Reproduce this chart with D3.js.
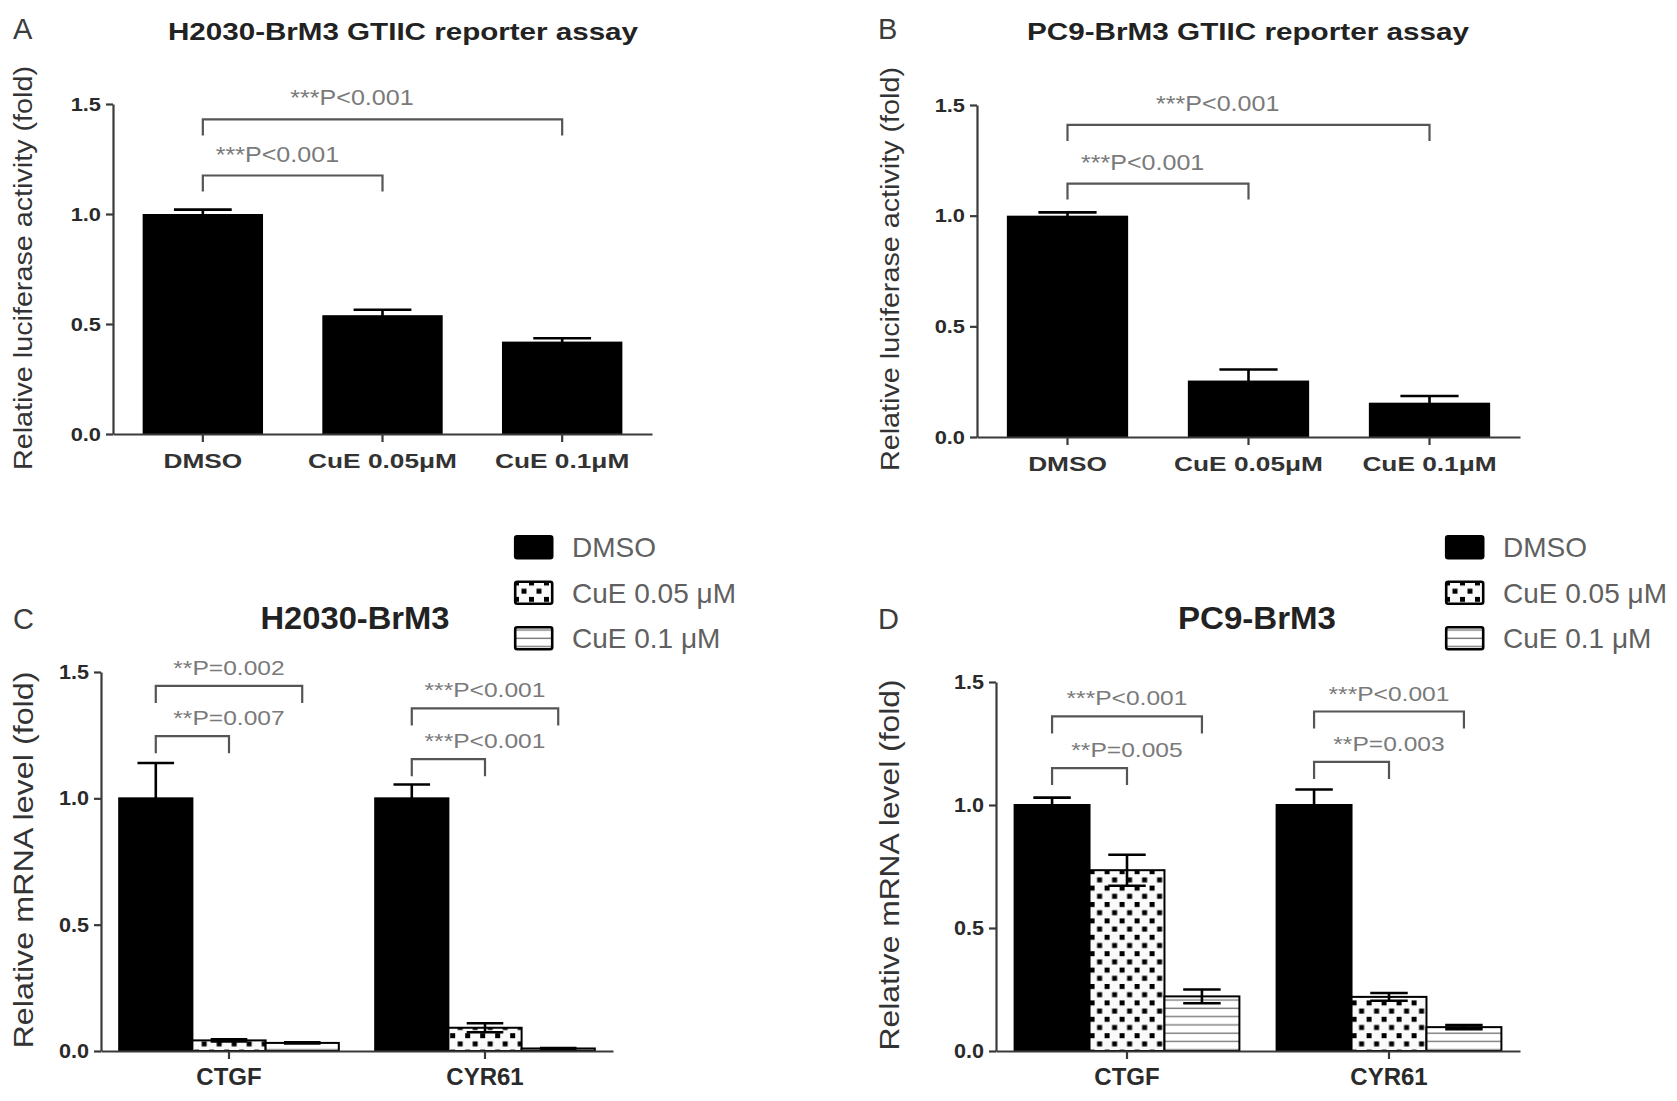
<!DOCTYPE html>
<html>
<head>
<meta charset="utf-8">
<script src="https://cdn.jsdelivr.net/npm/d3@7"></script>
<style>
  body { margin: 0; background: #fff; }
  svg { display: block; }
</style>
</head>
<body>
<svg id="fig" width="1677" height="1101"></svg>
<script>
// ---------- data ----------
const reporterGroups = ["DMSO", "CuE 0.05\u03bcM", "CuE 0.1\u03bcM"];
const h2030Luc = [1.00, 0.54, 0.42];
const h2030LucSd = [0.02, 0.025, 0.015];
const pc9Luc = [1.00, 0.255, 0.155];
const pc9LucSd = [0.015, 0.05, 0.03];

const genes = ["CTGF", "CYR61"];
const treatments = ["DMSO", "CuE 0.05 \u03bcM", "CuE 0.1 \u03bcM"];
const h2030Ctgf = [1.00, 0.042, 0.032];
const h2030CtgfSd = [0.14, 0.004, 0.002];
const h2030Cyr61 = [1.00, 0.092, 0.010];
const h2030Cyr61Sd = [0.055, 0.018, 0.002];
const pc9Ctgf = [1.00, 0.735, 0.222];
const pc9CtgfSd = [0.03, 0.063, 0.028];
const pc9Cyr61 = [1.00, 0.22, 0.097];
const pc9Cyr61Sd = [0.063, 0.016, 0.008];

const yTicks = [0, 0.5, 1.0, 1.5];

// significance brackets: compared bars (index) and bracket height in fold units
const h2030LucSig = [
  { a: 0, b: 2, y: 1.43, label: "***P<0.001" },
  { a: 0, b: 1, y: 1.175, label: "***P<0.001" }
];
const pc9LucSig = [
  { a: 0, b: 2, y: 1.41, label: "***P<0.001" },
  { a: 0, b: 1, y: 1.145, label: "***P<0.001" }
];
const h2030MrnaSig = [
  { gene: "CTGF", a: 0, b: 2, y: 1.445, label: "**P=0.002" },
  { gene: "CTGF", a: 0, b: 1, y: 1.246, label: "**P=0.007" },
  { gene: "CYR61", a: 0, b: 2, y: 1.356, label: "***P<0.001" },
  { gene: "CYR61", a: 0, b: 1, y: 1.155, label: "***P<0.001" }
];
const pc9MrnaSig = [
  { gene: "CTGF", a: 0, b: 2, y: 1.36, label: "***P<0.001" },
  { gene: "CTGF", a: 0, b: 1, y: 1.15, label: "**P=0.005" },
  { gene: "CYR61", a: 0, b: 2, y: 1.38, label: "***P<0.001" },
  { gene: "CYR61", a: 0, b: 1, y: 1.175, label: "**P=0.003" }
];

// ---------- layout ----------
const FONT = '"Liberation Sans", Arial, Helvetica, sans-serif';
const panelA = { letter: "A", lx: 13, ly: 39, title: "H2030-BrM3 GTIIC reporter assay", tx: 403, ty: 40, tw: 470,
  x0: 113, x1: 652, yBase: 434, yTop: 104, ytX: 32, ytY: 268, ytLen: 404,
  yTitle: "Relative luciferase activity (fold)" };
const panelB = { letter: "B", lx: 878, ly: 39, title: "PC9-BrM3 GTIIC reporter assay", tx: 1248, ty: 40, tw: 442,
  x0: 977, x1: 1520, yBase: 437, yTop: 105, ytX: 899, ytY: 269, ytLen: 404,
  yTitle: "Relative luciferase activity (fold)" };
const panelC = { letter: "C", lx: 13, ly: 629, title: "H2030-BrM3", tx: 355, ty: 629, tw: 189,
  x0: 101, x1: 613, yBase: 1051, yTop: 672, ytX: 33, ytY: 860, ytLen: 377, legX: 514, legY: 535,
  yTitle: "Relative mRNA level (fold)" };
const panelD = { letter: "D", lx: 878, ly: 629, title: "PC9-BrM3", tx: 1257, ty: 629, tw: 158,
  x0: 996, x1: 1520, yBase: 1051, yTop: 682, ytX: 899, ytY: 865, ytLen: 371, legX: 1445, legY: 535,
  yTitle: "Relative mRNA level (fold)" };

const fig = d3.select("#fig");

// widen text to match the figure's horizontally stretched lettering
function stretch(sel, k) {
  sel.each(function () {
    const len = this.getComputedTextLength();
    d3.select(this).attr("textLength", len * k).attr("lengthAdjust", "spacingAndGlyphs");
  });
}

// ---------- fill patterns ----------
const defs = fig.append("defs");
const checker = defs.append("pattern").attr("id", "checker")
  .attr("patternUnits", "userSpaceOnUse").attr("width", 15).attr("height", 16.4);
checker.append("rect").attr("width", 15).attr("height", 16.4).attr("fill", "#fafafa");
checker.append("rect").attr("x", 0).attr("y", 0).attr("width", 5).attr("height", 5).attr("fill", "#000");
checker.append("rect").attr("x", 7.5).attr("y", 8.2).attr("width", 5).attr("height", 5).attr("fill", "#000");

const stripes = defs.append("pattern").attr("id", "stripes")
  .attr("patternUnits", "userSpaceOnUse").attr("width", 10).attr("height", 8.3);
stripes.append("rect").attr("width", 10).attr("height", 8.3).attr("fill", "#fff");
stripes.append("line").attr("x1", 0).attr("x2", 10).attr("y1", 4).attr("y2", 4)
  .attr("stroke", "#7a7a7a").attr("stroke-width", 1.4);

const treatFill = ["#000", "url(#checker)", "url(#stripes)"];

// ---------- shared pieces ----------
function header(cfg, titleSize) {
  fig.append("text").attr("x", cfg.lx).attr("y", cfg.ly)
    .attr("font-family", FONT).attr("font-size", 29).attr("fill", "#3c3c3c")
    .text(cfg.letter);
  fig.append("text").attr("x", cfg.tx).attr("y", cfg.ty)
    .attr("text-anchor", "middle").attr("font-family", FONT)
    .attr("font-size", titleSize).attr("font-weight", "bold").attr("fill", "#222")
    .attr("textLength", cfg.tw).attr("lengthAdjust", "spacingAndGlyphs")
    .text(cfg.title);
}

function yTitle(cfg, size) {
  fig.append("text")
    .attr("transform", `translate(${cfg.ytX},${cfg.ytY}) rotate(-90)`)
    .attr("text-anchor", "middle").attr("font-family", FONT)
    .attr("font-size", size).attr("fill", "#333")
    .attr("textLength", cfg.ytLen).attr("lengthAdjust", "spacingAndGlyphs")
    .text(cfg.yTitle);
}

function yAxis(g, cfg, y, size, weight, k) {
  const ax = g.append("g").attr("transform", `translate(${cfg.x0},0)`)
    .attr("color", "#3a3a3a")
    .call(d3.axisLeft(y).tickValues(yTicks).tickFormat(d3.format(".1f"))
      .tickSize(7).tickSizeOuter(0).tickPadding(5));
  ax.selectAll("path,line").attr("stroke-width", 2.2);
  const t = ax.selectAll("text").attr("font-family", FONT).attr("font-size", size)
    .attr("font-weight", weight).attr("fill", "#2a2a2a");
  stretch(t, k);
}

function errorBar(g, cx, y, v, sd, capW) {
  const eb = g.append("g").attr("stroke", "#000").attr("stroke-width", 2.6);
  eb.append("line").attr("x1", cx).attr("x2", cx).attr("y1", y(v - sd)).attr("y2", y(v + sd));
  [v + sd, v - sd].forEach(e => {
    eb.append("line").attr("x1", cx - capW / 2).attr("x2", cx + capW / 2)
      .attr("y1", y(e)).attr("y2", y(e));
  });
}

function bracket(g, xa, xb, yb, leg, label, tx, gap, size, k) {
  g.append("path")
    .attr("d", `M${xa},${yb + leg}V${yb}H${xb}V${yb + leg}`)
    .attr("fill", "none").attr("stroke", "#555").attr("stroke-width", 2.2);
  const t = g.append("text").attr("x", tx).attr("y", yb - gap)
    .attr("text-anchor", "middle").attr("font-family", FONT)
    .attr("font-size", size).attr("fill", "#7a7a7a").text(label);
  stretch(t, k);
}

// ---------- reporter assay panels (A, B) ----------
function reporterPanel(cfg, values, sds, sig) {
  header(cfg, 24);
  yTitle(cfg, 26);
  const g = fig.append("g");
  const x = d3.scaleBand().domain(reporterGroups).range([cfg.x0, cfg.x1])
    .paddingInner(0.33).paddingOuter(0.165);
  const y = d3.scaleLinear().domain([0, 1.5]).range([cfg.yBase, cfg.yTop]);

  g.selectAll(".bar").data(values).join("rect").attr("class", "bar")
    .attr("x", (d, i) => x(reporterGroups[i]))
    .attr("y", d => y(d))
    .attr("width", x.bandwidth())
    .attr("height", d => y(0) - y(d))
    .attr("fill", "#000");

  values.forEach((v, i) => {
    errorBar(g, x(reporterGroups[i]) + x.bandwidth() / 2, y, v, sds[i], x.bandwidth() * 0.48);
  });

  yAxis(g, cfg, y, 19, "bold", 1.15);

  const xa = g.append("g").attr("transform", `translate(0,${cfg.yBase})`)
    .attr("color", "#3a3a3a")
    .call(d3.axisBottom(x).tickSize(8).tickSizeOuter(0).tickPadding(11));
  xa.selectAll("path,line").attr("stroke-width", 2.2);
  stretch(xa.selectAll("text").attr("font-family", FONT).attr("font-size", 21)
    .attr("font-weight", "bold").attr("fill", "#333"), 1.25);

  const cx = i => x(reporterGroups[i]) + x.bandwidth() / 2;
  sig.forEach(s => {
    const xa0 = cx(s.a), xb0 = cx(s.b);
    const tx = (xa0 + xb0) / 2 - 0.085 * (xb0 - xa0);
    bracket(g, xa0, xb0, y(s.y), 16, s.label, tx, 14, 22, 1.14);
  });
}

// ---------- mRNA panels (C, D) ----------
function legend(cfg) {
  const lg = fig.append("g").attr("transform", `translate(${cfg.legX},${cfg.legY})`);
  treatments.forEach((t, i) => {
    const row = lg.append("g").attr("transform", `translate(0,${i * 45.5})`);
    row.append("rect").attr("x", 1.2).attr("y", 1.2).attr("width", 37).attr("height", 22)
      .attr("rx", 2).attr("fill", treatFill[i]).attr("stroke", "#000").attr("stroke-width", 2.6);
    row.append("text").attr("x", 58).attr("y", 22)
      .attr("font-family", FONT).attr("font-size", 28).attr("fill", "#606060").text(t);
  });
}

function mrnaPanel(cfg, series, sds, sig) {
  header(cfg, 31);
  yTitle(cfg, 27);
  legend(cfg);
  const g = fig.append("g");
  const x0 = d3.scaleBand().domain(genes).range([cfg.x0, cfg.x1])
    .paddingInner(0.142).paddingOuter(0.071);
  const x1 = d3.scaleBand().domain(treatments).range([0, x0.bandwidth()]);
  const y = d3.scaleLinear().domain([0, 1.5]).range([cfg.yBase, cfg.yTop]);

  genes.forEach((gene, gi) => {
    const gg = g.append("g").attr("transform", `translate(${x0(gene)},0)`);
    gg.selectAll("rect").data(series[gi]).join("rect")
      .attr("x", (d, i) => x1(treatments[i]))
      .attr("y", d => y(d))
      .attr("width", x1.bandwidth())
      .attr("height", d => y(0) - y(d))
      .attr("fill", (d, i) => treatFill[i])
      .attr("stroke", "#000").attr("stroke-width", 2);
    series[gi].forEach((v, i) => {
      errorBar(gg, x1(treatments[i]) + x1.bandwidth() / 2, y, v, sds[gi][i], x1.bandwidth() * 0.5);
    });
  });

  yAxis(g, cfg, y, 20, "bold", 1.08);

  const xa = g.append("g").attr("transform", `translate(0,${cfg.yBase})`)
    .attr("color", "#3a3a3a")
    .call(d3.axisBottom(x0).tickSize(8).tickSizeOuter(0).tickPadding(9));
  xa.selectAll("path,line").attr("stroke-width", 2.2);
  xa.selectAll("text").attr("font-family", FONT).attr("font-size", 24)
    .attr("font-weight", "bold").attr("fill", "#2a2a2a");

  sig.forEach(s => {
    const base = x0(s.gene);
    const xa0 = base + x1(treatments[s.a]) + x1.bandwidth() / 2;
    const xb0 = base + x1(treatments[s.b]) + x1.bandwidth() / 2;
    const tx = base + x0.bandwidth() / 2;
    bracket(g, xa0, xb0, y(s.y), 17, s.label, tx, 11, 21, 1.17);
  });
}

reporterPanel(panelA, h2030Luc, h2030LucSd, h2030LucSig);
reporterPanel(panelB, pc9Luc, pc9LucSd, pc9LucSig);
mrnaPanel(panelC, [h2030Ctgf, h2030Cyr61], [h2030CtgfSd, h2030Cyr61Sd], h2030MrnaSig);
mrnaPanel(panelD, [pc9Ctgf, pc9Cyr61], [pc9CtgfSd, pc9Cyr61Sd], pc9MrnaSig);
</script>
</body>
</html>
